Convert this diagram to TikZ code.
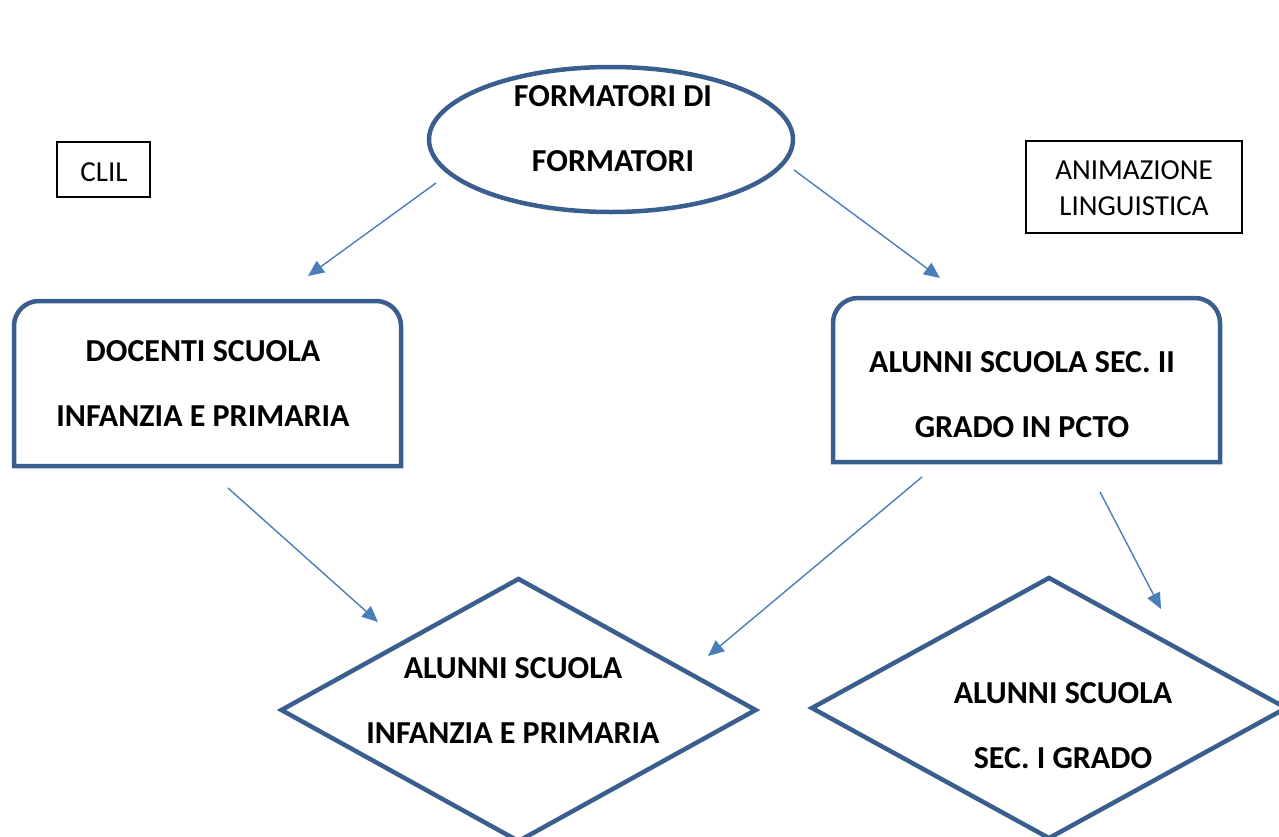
\documentclass[tikz,border=0pt]{standalone}
\usepackage{fontspec}
\setmainfont{Carlito}
\usetikzlibrary{shapes.geometric,arrows.meta}
\definecolor{shapeblue}{HTML}{3A5F8E}
\definecolor{arrowblue}{HTML}{4A7EBB}
\tikzset{
  shapeline/.style={draw=shapeblue,line width=4.5pt},
  bigtext/.style={font=\bfseries\fontsize{32}{65}\selectfont,align=center,inner sep=0pt},
  smalltext/.style={font=\fontsize{29}{36}\selectfont,align=center,inner sep=0pt},
  labelbox/.style={draw=black,line width=1.4pt,inner sep=0pt,outer sep=0pt},
  flow/.style={draw=arrowblue,line width=1.4pt,-{Triangle[length=16pt,width=14pt]}},
  frame/.style={inner sep=0pt,outer sep=0pt,minimum width=387pt}
}
\begin{document}
\begin{tikzpicture}[x=1pt,y=1pt]
\useasboundingbox (0,0) rectangle (1279,-836);
\clip (0,0) rectangle (1279,-836);
% ellipse
\node[ellipse,shapeline,minimum width=364pt,minimum height=145pt,inner sep=0pt] (ell) at (611,-139.5) {};
\node[bigtext] (ellt) at (613,-129) {FORMATORI DI\\FORMATORI};
% label boxes
\node[labelbox,minimum width=93pt,minimum height=55pt] (clil) at (103.5,-169.5) {};
\node[smalltext] (clilt) at (104,-172) {CLIL};
\node[labelbox,minimum width=216pt,minimum height=92pt] (anim) at (1134,-187) {};
\node[smalltext] (animt) at (1134,-188) {ANIMAZIONE\\LINGUISTICA};
% rounded-top boxes
\node[frame,minimum height=165pt] (doc) at (207.5,-383.5) {};
\draw[shapeline] (doc.south west) -- ([yshift=-25pt]doc.north west) arc[start angle=180,end angle=90,radius=25pt]
  -- ([xshift=-25pt]doc.north east) arc[start angle=90,end angle=0,radius=25pt] -- (doc.south east) -- cycle;
\node[bigtext] (doct) at (203,-383) {DOCENTI SCUOLA\\INFANZIA E PRIMARIA};
\node[frame,minimum height=164pt] (alu) at (1026.5,-380) {};
\draw[shapeline] (alu.south west) -- ([yshift=-25pt]alu.north west) arc[start angle=180,end angle=90,radius=25pt]
  -- ([xshift=-25pt]alu.north east) arc[start angle=90,end angle=0,radius=25pt] -- (alu.south east) -- cycle;
\node[bigtext] (alut) at (1022,-395) {ALUNNI SCUOLA SEC. II\\GRADO IN PCTO};
% diamonds
\node[diamond,shapeline,minimum width=476pt,minimum height=264pt,inner sep=0pt] (dia1) at (518.5,-710) {};
\node[bigtext] (dia1t) at (513,-700) {ALUNNI SCUOLA\\INFANZIA E PRIMARIA};
\node[diamond,shapeline,minimum width=476pt,minimum height=262pt,inner sep=0pt] (dia2) at (1049,-708) {};
\node[bigtext] (dia2t) at (1063,-726) {ALUNNI SCUOLA\\SEC. I GRADO};
% arrow ends
\coordinate (a1s) at (436,-183); \coordinate (a1e) at (308,-276);
\coordinate (a2s) at (794,-170); \coordinate (a2e) at (940,-278);
\coordinate (a3s) at (228,-488); \coordinate (a3e) at (378,-622);
\coordinate (a4s) at (922,-477); \coordinate (a4e) at (708,-656);
\coordinate (a5s) at (1100,-492); \coordinate (a5e) at (1161,-609);
\draw[flow] (a1s) -- (a1e);
\draw[flow] (a2s) -- (a2e);
\draw[flow] (a3s) -- (a3e);
\draw[flow] (a4s) -- (a4e);
\draw[flow] (a5s) -- (a5e);
\end{tikzpicture}
\end{document}
